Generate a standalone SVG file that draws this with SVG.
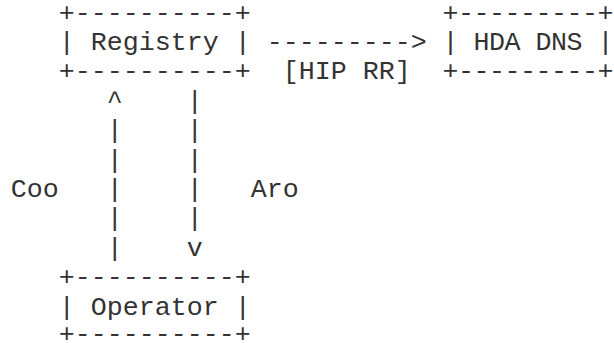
<svg xmlns="http://www.w3.org/2000/svg" width="614" height="343" viewBox="0 0 614 343">
  <style>
    text { font-family: "Liberation Mono", "DejaVu Sans Mono", monospace; font-size: 26.67px; fill: #333; white-space: pre; }
  </style>
  <rect width="614" height="343" fill="#fff"/>

  <!-- Registry box: columns 3-14 -->
  <g id="registry">
    <text x="58.7" y="21">+----------+</text>
    <text x="58.7" y="50">| Registry |</text>
    <text x="58.7" y="79.4">+----------+</text>
  </g>

  <!-- HDA DNS box: columns 27-37, held inside the right edge -->
  <g id="hda-dns">
    <text x="442.5" y="21" textLength="171" lengthAdjust="spacing">+---------+</text>
    <text x="442.5" y="50" textLength="171" lengthAdjust="spacing">| HDA DNS |</text>
    <text x="442.5" y="79.4" textLength="171" lengthAdjust="spacing">+---------+</text>
  </g>

  <!-- Operator box: columns 3-14 -->
  <g id="operator">
    <text x="58.7" y="285.2">+----------+</text>
    <text x="58.7" y="314.6">| Operator |</text>
    <text x="58.7" y="342">+----------+</text>
  </g>

  <g id="connectors">
    <!-- Registry to HDA DNS -->
    <text x="266.7" y="50">---------&gt;</text>
    <text x="282.7" y="79.4">[HIP RR]</text>

    <!-- Operator up to Registry (column 6) -->
    <text x="106.7" y="108.8">^</text>
    <text x="106.7" y="138.2">|</text>
    <text x="106.7" y="167.6">|</text>
    <text x="106.7" y="197">|</text>
    <text x="106.7" y="226.4">|</text>
    <text x="106.7" y="255.8">|</text>
    <text x="10.7" y="197">Coo</text>

    <!-- Registry down to Operator (column 11) -->
    <text x="186.7" y="108.8">|</text>
    <text x="186.7" y="138.2">|</text>
    <text x="186.7" y="167.6">|</text>
    <text x="186.7" y="197">|</text>
    <text x="186.7" y="226.4">|</text>
    <text x="186.7" y="255.8">v</text>
    <text x="250.7" y="197">Aro</text>
  </g>
</svg>
